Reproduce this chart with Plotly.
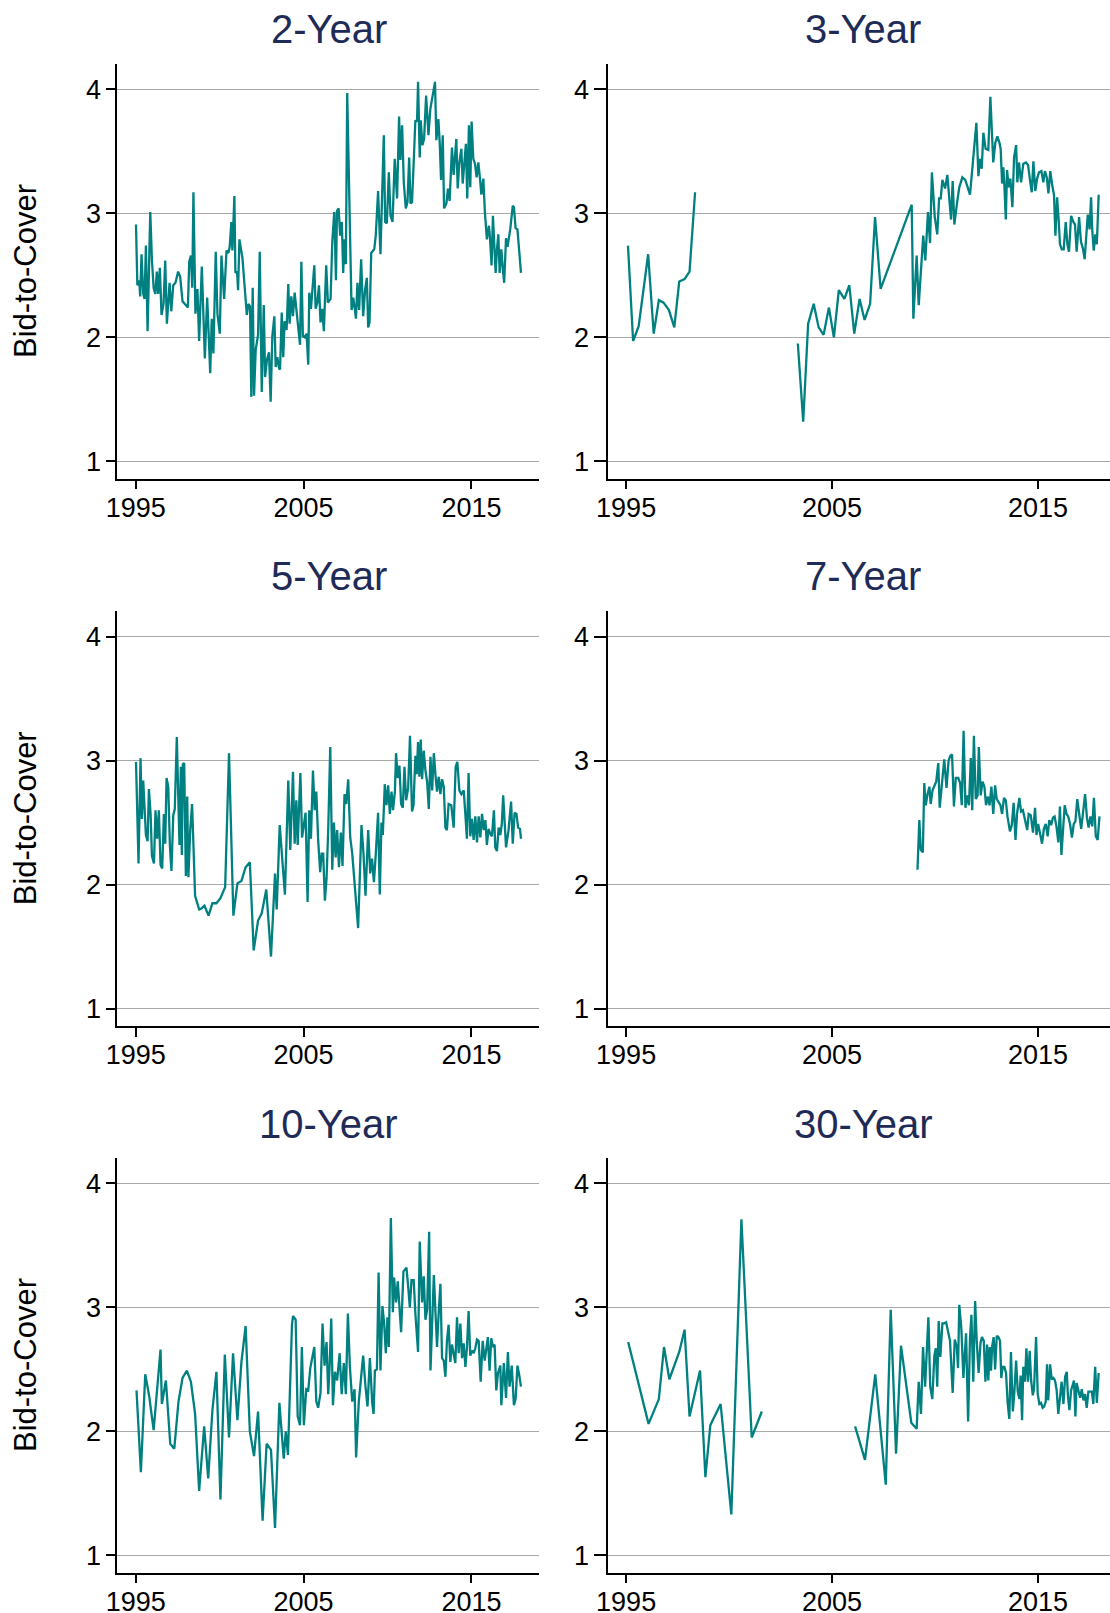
import plotly.graph_objects as go

W, H = 1110, 1613
TEAL = "#008080"
NAVY = "#1f2b57"
FONT = "Liberation Sans, Arial, Helvetica, sans-serif"

TITLES = ["2-Year", "3-Year", "5-Year", "7-Year", "10-Year", "30-Year"]
Y_LABEL = "Bid-to-Cover"
X_TICKS = [1995, 2005, 2015]
Y_TICKS = [1, 2, 3, 4]

dates_2y = [
    1995.02, 1995.10, 1995.21, 1995.27, 1995.35, 1995.45, 1995.53, 1995.61, 1995.71, 1995.87,
    1995.97, 1996.07, 1996.17, 1996.26, 1996.34, 1996.44, 1996.54, 1996.66, 1996.76, 1996.86,
    1997.02, 1997.12, 1997.24, 1997.37, 1997.53, 1997.65, 1997.79, 1998.11, 1998.19, 1998.29,
    1998.37, 1998.44, 1998.56, 1998.68, 1998.78, 1998.94, 1999.12, 1999.26, 1999.44, 1999.53,
    1999.63, 1999.77, 1999.87, 2000.01, 2000.11, 2000.27, 2000.41, 2000.52, 2000.60, 2000.70,
    2000.76, 2000.88, 2000.94, 2001.04, 2001.10, 2001.18, 2001.36, 2001.46, 2001.56, 2001.62,
    2001.71, 2001.81, 2001.89, 2001.97, 2002.05, 2002.15, 2002.29, 2002.39, 2002.51, 2002.63,
    2002.71, 2002.82, 2002.94, 2003.04, 2003.14, 2003.26, 2003.34, 2003.44, 2003.54, 2003.60,
    2003.70, 2003.79, 2003.87, 2003.99, 2004.09, 2004.17, 2004.27, 2004.37, 2004.47, 2004.59,
    2004.69, 2004.79, 2004.87, 2004.96, 2005.08, 2005.18, 2005.28, 2005.34, 2005.44, 2005.54,
    2005.64, 2005.72, 2005.82, 2005.92, 2006.01, 2006.11, 2006.21, 2006.35, 2006.45, 2006.61,
    2006.71, 2006.83, 2006.93, 2006.99, 2007.09, 2007.18, 2007.28, 2007.36, 2007.44, 2007.52,
    2007.60, 2007.86, 2007.96, 2008.06, 2008.12, 2008.21, 2008.31, 2008.43, 2008.55, 2008.67,
    2008.77, 2008.85, 2008.93, 2009.03, 2009.11, 2009.21, 2009.30, 2009.44, 2009.58, 2009.68,
    2009.78, 2009.86, 2009.96, 2010.08, 2010.18, 2010.30, 2010.43, 2010.57, 2010.69, 2010.77,
    2010.87, 2010.97, 2011.09, 2011.19, 2011.29, 2011.37, 2011.46, 2011.56, 2011.66, 2011.76,
    2011.82, 2011.92, 2011.98, 2012.08, 2012.18, 2012.30, 2012.44, 2012.55, 2012.71, 2012.83,
    2012.91, 2013.03, 2013.11, 2013.19, 2013.29, 2013.37, 2013.51, 2013.60, 2013.70, 2013.84,
    2013.94, 2014.02, 2014.10, 2014.18, 2014.28, 2014.40, 2014.48, 2014.58, 2014.67, 2014.75,
    2014.85, 2014.93, 2015.01, 2015.11, 2015.21, 2015.31, 2015.41, 2015.51, 2015.59, 2015.71,
    2015.80, 2015.92, 2016.04, 2016.10, 2016.20, 2016.28, 2016.36, 2016.44, 2016.52, 2016.60,
    2016.68, 2016.78, 2016.87, 2016.95, 2017.06, 2017.15, 2017.31, 2017.46, 2017.53, 2017.63,
    2017.74, 2017.95,
]
btc_2y = [
    2.91, 2.42, 2.46, 2.33, 2.67, 2.35, 2.31, 2.74, 2.05, 3.01,
    2.62, 2.40, 2.35, 2.53, 2.35, 2.56, 2.18, 2.27, 2.62, 2.11,
    2.44, 2.21, 2.42, 2.44, 2.53, 2.49, 2.29, 2.24, 2.61, 2.66,
    2.40, 3.17, 2.19, 2.39, 1.97, 2.57, 1.83, 2.32, 1.71, 2.15,
    1.87, 2.69, 2.19, 2.03, 2.66, 2.31, 2.70, 2.68, 2.73, 2.93,
    2.70, 3.14, 2.52, 2.53, 2.38, 2.79, 2.64, 2.46, 2.26, 2.18,
    2.27, 2.25, 1.52, 2.40, 1.53, 1.90, 2.02, 2.69, 1.56, 2.26,
    1.68, 1.82, 1.88, 1.48, 2.01, 2.17, 1.76, 1.84, 1.75, 1.74,
    2.20, 1.84, 2.13, 2.06, 2.43, 2.11, 2.33, 2.17, 2.36, 2.19,
    2.06, 1.94, 2.61, 2.01, 2.00, 2.03, 1.78, 2.36, 2.23, 2.38,
    2.58, 2.23, 2.28, 2.42, 2.12, 2.23, 2.05, 2.58, 2.28, 2.31,
    2.77, 3.01, 2.46, 3.02, 3.04, 2.82, 2.93, 2.52, 2.79, 2.59,
    3.97, 2.22, 2.32, 2.22, 2.15, 2.44, 2.22, 2.63, 2.17, 2.39,
    2.48, 2.08, 2.12, 2.68, 2.69, 2.71, 2.82, 3.18, 2.67, 3.14,
    3.63, 2.93, 2.92, 3.33, 2.98, 2.93, 3.44, 3.12, 3.78, 3.43,
    3.71, 3.25, 3.04, 3.09, 3.45, 3.08, 3.09, 3.41, 3.75, 3.74,
    4.06, 3.45, 3.75, 3.55, 3.60, 3.95, 3.63, 3.84, 3.98, 4.06,
    3.59, 3.76, 3.57, 3.27, 3.63, 3.04, 3.08, 3.20, 3.10, 3.53,
    3.31, 3.44, 3.60, 3.20, 3.41, 3.52, 3.24, 3.41, 3.56, 3.12,
    3.71, 3.21, 3.74, 3.44, 3.40, 3.29, 3.41, 3.28, 3.15, 3.28,
    3.01, 2.79, 2.90, 2.81, 2.58, 2.98, 2.69, 2.52, 2.71, 2.83,
    2.52, 2.71, 2.55, 2.44, 2.80, 2.73, 2.87, 3.06, 3.05, 2.88,
    2.87, 2.52,
]

dates_3y = [
    1995.09, 1995.34, 1995.61, 1996.07, 1996.34, 1996.59, 1996.82, 1997.08, 1997.34, 1997.58,
    1997.84, 1998.08, 1998.35, None, 2003.34, 2003.60, 2003.84, 2004.11, 2004.35, 2004.59,
    2004.85, 2005.09, 2005.33, 2005.60, 2005.84, 2006.08, 2006.34, 2006.58, 2006.85, 2007.09,
    2007.36, 2008.87, 2008.95, 2009.11, 2009.21, 2009.43, 2009.53, 2009.66, 2009.76, 2009.85,
    2009.99, 2010.11, 2010.20, 2010.28, 2010.36, 2010.49, 2010.60, 2010.70, 2010.78, 2010.86,
    2010.94, 2011.06, 2011.18, 2011.33, 2011.47, 2011.57, 2011.70, 2011.83, 2012.01, 2012.11,
    2012.19, 2012.27, 2012.35, 2012.46, 2012.59, 2012.69, 2012.83, 2012.93, 2013.03, 2013.13,
    2013.19, 2013.26, 2013.32, 2013.37, 2013.44, 2013.50, 2013.58, 2013.66, 2013.76, 2013.84,
    2013.94, 2014.00, 2014.08, 2014.18, 2014.29, 2014.42, 2014.52, 2014.62, 2014.70, 2014.78,
    2014.87, 2014.96, 2015.05, 2015.17, 2015.26, 2015.34, 2015.43, 2015.51, 2015.60, 2015.70,
    2015.78, 2015.85, 2015.93, 2016.01, 2016.07, 2016.16, 2016.25, 2016.35, 2016.43, 2016.51,
    2016.61, 2016.72, 2016.80, 2016.88, 2017.00, 2017.09, 2017.18, 2017.27, 2017.42, 2017.51,
    2017.58, 2017.64, 2017.71, 2017.79, 2017.86, 2017.95,
]
btc_3y = [
    2.74, 1.97, 2.09, 2.67, 2.03, 2.30, 2.28, 2.22, 2.08, 2.45,
    2.47, 2.53, 3.17, None, 1.95, 1.32, 2.11, 2.27, 2.08, 2.02,
    2.24, 2.00, 2.38, 2.31, 2.42, 2.03, 2.31, 2.14, 2.27, 2.97,
    2.39, 3.07, 2.15, 2.66, 2.26, 2.82, 2.62, 3.01, 2.76, 3.33,
    2.97, 2.83, 3.12, 3.12, 3.27, 3.20, 3.31, 3.14, 2.95, 3.26,
    2.91, 3.07, 3.21, 3.29, 3.27, 3.22, 3.15, 3.39, 3.73, 3.30,
    3.44, 3.36, 3.65, 3.52, 3.51, 3.94, 3.41, 3.57, 3.62, 3.57,
    3.52, 3.24, 3.37, 3.23, 2.95, 3.35, 3.21, 3.28, 3.05, 3.45,
    3.55, 3.25, 3.41, 3.25, 3.40, 3.41, 3.39, 3.26, 3.17, 3.42,
    3.18, 3.28, 3.33, 3.34, 3.25, 3.34, 3.29, 3.16, 3.34, 3.22,
    3.15, 2.82, 3.13, 2.94, 2.75, 2.71, 2.71, 2.93, 2.75, 2.69,
    2.98, 2.93, 2.91, 2.69, 2.97, 2.77, 2.72, 2.63, 2.99, 2.87,
    3.13, 2.86, 2.70, 2.83, 2.75, 3.15,
]

dates_5y = [
    1995.02, 1995.17, 1995.29, 1995.37, 1995.45, 1995.55, 1995.61, 1995.71, 1995.79, 1995.89,
    1995.97, 1996.09, 1996.18, 1996.28, 1996.38, 1996.48, 1996.58, 1996.68, 1996.76, 1996.84,
    1996.94, 1997.04, 1997.13, 1997.24, 1997.33, 1997.45, 1997.55, 1997.61, 1997.69, 1997.75,
    1997.81, 1997.89, 1997.99, 1998.07, 1998.14, 1998.25, 1998.36, 1998.54, 1998.78, 1998.94,
    1999.10, 1999.34, 1999.57, 1999.81, 2000.05, 2000.33, 2000.56, 2000.82, 2001.06, 2001.30,
    2001.55, 2001.80, 2002.03, 2002.29, 2002.51, 2002.78, 2003.06, 2003.30, 2003.40, 2003.58,
    2003.89, 2004.09, 2004.21, 2004.37, 2004.47, 2004.57, 2004.65, 2004.73, 2004.81, 2004.91,
    2005.01, 2005.12, 2005.24, 2005.34, 2005.44, 2005.56, 2005.66, 2005.76, 2005.87, 2005.99,
    2006.08, 2006.17, 2006.27, 2006.37, 2006.47, 2006.59, 2006.71, 2006.81, 2006.91, 2007.00,
    2007.11, 2007.22, 2007.32, 2007.44, 2007.54, 2007.66, 2007.78, 2007.90, 2008.25, 2008.45,
    2008.57, 2008.69, 2008.85, 2008.97, 2009.08, 2009.19, 2009.29, 2009.44, 2009.54, 2009.64,
    2009.72, 2009.84, 2009.94, 2010.04, 2010.14, 2010.24, 2010.33, 2010.44, 2010.51, 2010.61,
    2010.71, 2010.81, 2010.91, 2011.01, 2011.11, 2011.23, 2011.34, 2011.46, 2011.55, 2011.66,
    2011.74, 2011.82, 2011.90, 2011.98, 2012.06, 2012.16, 2012.26, 2012.36, 2012.46, 2012.56,
    2012.66, 2012.76, 2012.86, 2012.95, 2013.05, 2013.15, 2013.25, 2013.35, 2013.45, 2013.54,
    2013.64, 2013.80, 2013.94, 2014.06, 2014.16, 2014.28, 2014.40, 2014.54, 2014.64, 2014.73,
    2014.83, 2014.93, 2015.03, 2015.13, 2015.23, 2015.33, 2015.43, 2015.53, 2015.63, 2015.73,
    2015.83, 2015.92, 2016.02, 2016.12, 2016.22, 2016.34, 2016.42, 2016.52, 2016.62, 2016.72,
    2016.81, 2016.89, 2017.06, 2017.21, 2017.36, 2017.46, 2017.57, 2017.68, 2017.78, 2017.89,
    2017.95,
]
btc_5y = [
    2.99, 2.17, 3.02, 2.53, 2.84, 2.54, 2.40, 2.35, 2.77, 2.57,
    2.23, 2.17, 2.60, 2.37, 2.60, 2.16, 2.13, 2.57, 2.33, 2.86,
    2.79, 2.31, 2.11, 2.56, 2.61, 3.19, 2.65, 2.32, 2.95, 2.24,
    2.97, 2.98, 2.07, 2.71, 2.06, 2.44, 2.65, 1.91, 1.80, 1.81,
    1.83, 1.75, 1.85, 1.85, 1.89, 1.98, 3.06, 1.75, 2.01, 2.03,
    2.14, 2.18, 1.47, 1.71, 1.77, 1.96, 1.42, 2.09, 1.80, 2.48,
    1.92, 2.84, 2.28, 2.91, 2.33, 2.68, 2.32, 2.72, 2.90, 2.38,
    2.50, 2.58, 1.86, 2.60, 2.37, 2.92, 2.60, 2.75, 2.36, 2.10,
    2.25, 2.25, 1.87, 2.05, 2.45, 3.11, 2.12, 2.50, 2.22, 2.44,
    2.14, 2.42, 2.15, 2.73, 2.65, 2.85, 2.38, 2.25, 1.65, 2.48,
    2.25, 1.91, 2.44, 2.09, 2.21, 2.02, 2.22, 2.58, 1.92, 2.50,
    2.40, 2.81, 2.64, 2.80, 2.57, 2.75, 2.60, 2.75, 3.06, 2.86,
    2.96, 2.65, 2.62, 2.95, 2.68, 2.78, 3.20, 2.59, 2.64, 3.04,
    2.89, 3.15, 2.87, 3.17, 2.85, 3.08, 2.92, 2.83, 2.61, 3.03,
    2.76, 3.06, 2.88, 2.75, 2.87, 2.73, 2.85, 2.79, 2.46, 2.44,
    2.65, 2.64, 2.46, 2.95, 2.99, 2.76, 2.73, 2.76, 2.56, 2.37,
    2.90, 2.39, 2.53, 2.36, 2.55, 2.34, 2.55, 2.38, 2.57, 2.44,
    2.52, 2.32, 2.45, 2.41, 2.39, 2.60, 2.30, 2.27, 2.46, 2.40,
    2.49, 2.72, 2.30, 2.44, 2.67, 2.33, 2.58, 2.57, 2.46, 2.45,
    2.37,
]

dates_7y = [
    2009.15, 2009.24, 2009.31, 2009.41, 2009.48, 2009.55, 2009.64, 2009.73, 2009.79, 2009.88,
    2010.06, 2010.16, 2010.23, 2010.33, 2010.45, 2010.56, 2010.66, 2010.75, 2010.83, 2010.92,
    2011.01, 2011.13, 2011.22, 2011.30, 2011.39, 2011.48, 2011.56, 2011.65, 2011.74, 2011.81,
    2011.89, 2011.98, 2012.07, 2012.13, 2012.22, 2012.31, 2012.40, 2012.48, 2012.57, 2012.65,
    2012.74, 2012.83, 2012.92, 2013.00, 2013.09, 2013.18, 2013.26, 2013.35, 2013.44, 2013.52,
    2013.64, 2013.73, 2013.82, 2013.91, 2013.99, 2014.10, 2014.18, 2014.27, 2014.48, 2014.55,
    2014.65, 2014.76, 2014.86, 2014.93, 2015.01, 2015.10, 2015.20, 2015.29, 2015.38, 2015.47,
    2015.55, 2015.64, 2015.73, 2015.81, 2015.90, 2015.99, 2016.07, 2016.14, 2016.23, 2016.30,
    2016.39, 2016.47, 2016.56, 2016.65, 2016.74, 2016.82, 2016.91, 2017.01, 2017.10, 2017.19,
    2017.29, 2017.38, 2017.46, 2017.55, 2017.64, 2017.72, 2017.81, 2017.90, 2017.99,
]
btc_7y = [
    2.12, 2.52, 2.28, 2.26, 2.82, 2.64, 2.73, 2.79, 2.65, 2.76,
    2.83, 2.98, 2.62, 2.83, 3.01, 2.78, 3.00, 3.04, 3.05, 2.63,
    2.86, 2.86, 2.82, 2.64, 3.24, 2.62, 2.72, 2.64, 3.02, 2.60,
    3.20, 2.69, 2.72, 3.11, 2.72, 2.83, 2.79, 2.64, 2.71, 2.64,
    2.79, 2.57, 2.80, 2.69, 2.67, 2.64, 2.57, 2.70, 2.68, 2.55,
    2.43, 2.48, 2.66, 2.36, 2.58, 2.70, 2.59, 2.60, 2.44, 2.57,
    2.56, 2.42, 2.62, 2.40, 2.49, 2.40, 2.33, 2.45, 2.49, 2.39,
    2.52, 2.48, 2.54, 2.55, 2.47, 2.34, 2.63, 2.24, 2.48, 2.64,
    2.57, 2.55, 2.49, 2.38, 2.49, 2.51, 2.69, 2.55, 2.45, 2.58,
    2.73, 2.54, 2.46, 2.55, 2.47, 2.70, 2.39, 2.36, 2.55,
]

dates_10y = [
    1995.05, 1995.31, 1995.57, 1995.81, 1996.07, 1996.27, 1996.48, 1996.56, 1996.80, 1997.06,
    1997.30, 1997.55, 1997.79, 1998.05, 1998.29, 1998.54, 1998.78, 1999.08, 1999.32, 1999.57,
    1999.81, 2000.05, 2000.31, 2000.56, 2000.80, 2001.06, 2001.30, 2001.55, 2001.80, 2002.05,
    2002.29, 2002.56, 2002.80, 2003.06, 2003.30, 2003.56, 2003.82, 2003.94, 2004.07, 2004.31,
    2004.37, 2004.53, 2004.65, 2004.79, 2004.90, 2005.02, 2005.16, 2005.28, 2005.40, 2005.64,
    2005.76, 2005.87, 2006.01, 2006.13, 2006.25, 2006.37, 2006.47, 2006.55, 2006.65, 2006.75,
    2006.87, 2007.00, 2007.15, 2007.27, 2007.40, 2007.52, 2007.64, 2007.76, 2007.90, 2008.04,
    2008.13, 2008.29, 2008.43, 2008.55, 2008.69, 2008.81, 2008.95, 2009.09, 2009.17, 2009.25,
    2009.37, 2009.47, 2009.58, 2009.70, 2009.80, 2009.90, 2010.00, 2010.08, 2010.20, 2010.32,
    2010.39, 2010.51, 2010.61, 2010.73, 2010.81, 2010.95, 2011.13, 2011.23, 2011.33, 2011.43,
    2011.56, 2011.66, 2011.82, 2011.92, 2012.06, 2012.16, 2012.26, 2012.36, 2012.48, 2012.56,
    2012.66, 2012.76, 2012.86, 2012.95, 2013.05, 2013.15, 2013.25, 2013.35, 2013.45, 2013.54,
    2013.64, 2013.74, 2013.84, 2013.94, 2014.04, 2014.14, 2014.24, 2014.34, 2014.44, 2014.54,
    2014.64, 2014.73, 2014.83, 2014.93, 2015.03, 2015.13, 2015.23, 2015.33, 2015.43, 2015.55,
    2015.67, 2015.79, 2015.89, 2015.98, 2016.08, 2016.18, 2016.28, 2016.38, 2016.48, 2016.58,
    2016.72, 2016.78, 2016.93, 2017.06, 2017.17, 2017.27, 2017.40, 2017.53, 2017.63, 2017.74,
    2017.84, 2017.95,
]
btc_10y = [
    2.33, 1.67, 2.46, 2.28, 2.01, 2.36, 2.66, 2.22, 2.41, 1.90,
    1.86, 2.24, 2.43, 2.49, 2.40, 2.14, 1.52, 2.04, 1.62, 2.17,
    2.48, 1.45, 2.62, 1.95, 2.63, 2.09, 2.56, 2.85, 2.00, 1.80,
    2.16, 1.28, 1.90, 1.85, 1.22, 2.23, 1.78, 2.00, 1.81, 2.86,
    2.93, 2.90, 2.12, 2.05, 2.68, 2.05, 2.34, 2.33, 2.51, 2.68,
    2.24, 2.19, 2.31, 2.87, 2.53, 2.72, 2.30, 2.52, 2.91, 2.21,
    2.48, 2.41, 2.63, 2.30, 2.55, 2.30, 2.95, 2.52, 2.24, 2.34,
    1.79, 2.24, 2.44, 2.61, 2.36, 2.20, 2.59, 2.23, 2.14, 2.49,
    2.50, 3.28, 2.49, 3.01, 2.87, 2.63, 2.92, 2.68, 3.72, 2.96,
    3.24, 3.04, 3.21, 2.94, 2.80, 3.29, 3.32, 3.17, 3.00, 3.22,
    3.22, 2.95, 2.64, 3.53, 3.04, 3.25, 2.90, 2.98, 3.61, 2.49,
    2.98, 3.26, 2.95, 2.68, 2.96, 3.19, 2.59, 2.57, 2.44, 2.73,
    2.86, 2.56, 2.70, 2.63, 2.55, 2.92, 2.63, 2.87, 2.59, 2.71,
    2.52, 2.67, 2.97, 2.61, 2.65, 2.63, 2.67, 2.74, 2.73, 2.40,
    2.73, 2.57, 2.69, 2.76, 2.49, 2.75, 2.68, 2.70, 2.33, 2.47,
    2.53, 2.21, 2.55, 2.27, 2.64, 2.36, 2.53, 2.21, 2.26, 2.53,
    2.46, 2.36,
]

dates_30y = [
    1995.10, 1996.09, 1996.59, 1996.84, 1997.10, 1997.58, 1997.84, 1998.08, 1998.59, 1998.85,
    1999.09, 1999.59, 2000.11, 2000.60, 2001.10, 2001.59, None, 2006.12, 2006.60, 2007.10,
    2007.61, 2007.85, 2008.11, 2008.35, 2008.85, 2009.11, 2009.21, 2009.32, 2009.42, 2009.52,
    2009.68, 2009.77, 2009.87, 2009.97, 2010.04, 2010.11, 2010.18, 2010.26, 2010.36, 2010.44,
    2010.54, 2010.73, 2010.86, 2010.96, 2011.06, 2011.12, 2011.18, 2011.28, 2011.38, 2011.51,
    2011.61, 2011.70, 2011.77, 2011.86, 2011.95, 2012.03, 2012.12, 2012.21, 2012.28, 2012.37,
    2012.45, 2012.53, 2012.59, 2012.66, 2012.72, 2012.78, 2012.85, 2012.92, 2013.00, 2013.08,
    2013.16, 2013.22, 2013.29, 2013.37, 2013.45, 2013.53, 2013.61, 2013.69, 2013.78, 2013.85,
    2013.94, 2014.02, 2014.10, 2014.16, 2014.23, 2014.29, 2014.37, 2014.44, 2014.52, 2014.60,
    2014.67, 2014.75, 2014.81, 2014.91, 2014.99, 2015.07, 2015.15, 2015.23, 2015.30, 2015.38,
    2015.44, 2015.50, 2015.59, 2015.67, 2015.75, 2015.83, 2015.91, 2015.99, 2016.07, 2016.15,
    2016.24, 2016.32, 2016.40, 2016.46, 2016.53, 2016.61, 2016.75, 2016.82, 2016.88, 2016.96,
    2017.05, 2017.13, 2017.21, 2017.29, 2017.37, 2017.45, 2017.53, 2017.62, 2017.69, 2017.78,
    2017.86, 2017.95,
]
btc_30y = [
    2.72, 2.06, 2.26, 2.68, 2.42, 2.64, 2.82, 2.12, 2.49, 1.63,
    2.05, 2.22, 1.33, 3.71, 1.95, 2.16, None, 2.04, 1.77, 2.46,
    1.57, 2.98, 1.82, 2.69, 2.07, 2.02, 2.40, 2.14, 2.68, 2.36,
    2.92, 2.36, 2.26, 2.61, 2.67, 2.36, 2.89, 2.60, 2.87, 2.87,
    2.88, 2.73, 2.31, 2.74, 2.68, 2.51, 3.02, 2.83, 2.43, 2.79,
    2.08, 2.75, 2.94, 2.40, 3.05, 2.72, 2.47, 2.71, 2.76, 2.73,
    2.40, 2.70, 2.41, 2.68, 2.49, 2.69, 2.76, 2.50, 2.77, 2.76,
    2.73, 2.43, 2.52, 2.52, 2.47, 2.23, 2.10, 2.64, 2.16, 2.30,
    2.57, 2.32, 2.26, 2.45, 2.09, 2.52, 2.40, 2.67, 2.40, 2.65,
    2.41, 2.29, 2.34, 2.76, 2.30, 2.22, 2.23, 2.19, 2.20, 2.24,
    2.54, 2.25, 2.54, 2.42, 2.43, 2.41, 2.33, 2.14, 2.28, 2.40,
    2.22, 2.44, 2.48, 2.28, 2.17, 2.33, 2.41, 2.12, 2.39, 2.32,
    2.27, 2.34, 2.25, 2.30, 2.19, 2.32, 2.32, 2.32, 2.22, 2.52,
    2.23, 2.47,
]

SERIES = [
    (dates_2y, btc_2y), (dates_3y, btc_3y),
    (dates_5y, btc_5y), (dates_7y, btc_7y),
    (dates_10y, btc_10y), (dates_30y, btc_30y),
]

# ---- geometry (pixels) ----
COL_PX = [(117.2, 538.6), (608.2, 1110.0)]
ROW_PX = [(63.9, 478.7), (611.2, 1026.0), (1157.9, 1572.7)]
X_RANGE = [(1993.9, 2019.0), (1994.13, 2018.5)]
Y_RANGE = (0.86, 4.205)
TITLE_Y_PX = [29.3, 576.2, 1124.0]
TITLE_X_PX = [328.6, 863.0]
TICKLEN = [9, 12]

fig = go.Figure()
annotations = []
for i, (xs, ys) in enumerate(SERIES):
    r, c = divmod(i, 2)
    k = i + 1
    xn = "x" if k == 1 else f"x{k}"
    yn = "y" if k == 1 else f"y{k}"
    fig.add_trace(go.Scatter(
        x=xs, y=ys, mode="lines", xaxis=xn, yaxis=yn,
        line=dict(color=TEAL, width=2.3), connectgaps=False,
        hoverinfo="skip", showlegend=False,
    ))
    x0, x1 = COL_PX[c]
    t, b = ROW_PX[r]
    fig.layout[f"xaxis{k}"] = dict(
        domain=[x0 / W, x1 / W], range=list(X_RANGE[c]), anchor=yn,
        tickmode="array", tickvals=X_TICKS, ticks="outside", ticklen=9,
        ticklabelstandoff=-5,
        tickwidth=1.5, tickcolor="black", showline=True, linecolor="black",
        linewidth=1.5, showgrid=False, zeroline=False, automargin=False,
        tickfont=dict(family=FONT, size=27, color="black"),
    )
    fig.layout[f"yaxis{k}"] = dict(
        domain=[1 - b / H, 1 - t / H], range=list(Y_RANGE), anchor=xn,
        tickmode="array", tickvals=Y_TICKS, ticks="outside", ticklen=TICKLEN[c],
        tickwidth=1.5, tickcolor="black", showline=True, linecolor="black",
        linewidth=1.5, showgrid=True, gridcolor="#a9a9a9", gridwidth=1,
        zeroline=False, automargin=False,
        tickfont=dict(family=FONT, size=27, color="black"),
    )
    annotations.append(dict(
        text=TITLES[i], xref="paper", yref="paper",
        x=TITLE_X_PX[c] / W, y=1 - TITLE_Y_PX[r] / H,
        xanchor="center", yanchor="middle", showarrow=False,
        font=dict(family=FONT, size=40, color=NAVY),
    ))
    if c == 0:
        annotations.append(dict(
            text=Y_LABEL, xref="paper", yref="paper",
            x=25.7 / W, y=1 - (t + b) / 2 / H, textangle=-90,
            xanchor="center", yanchor="middle", showarrow=False,
            font=dict(family=FONT, size=31, color="black"),
        ))

fig.update_layout(
    template="none",
    width=W, height=H, margin=dict(l=0, r=0, t=0, b=0, pad=0, autoexpand=False),
    paper_bgcolor="white", plot_bgcolor="white",
    annotations=annotations, showlegend=False,
    font=dict(family=FONT, color="black"),
)

fig.write_html("out.html")
